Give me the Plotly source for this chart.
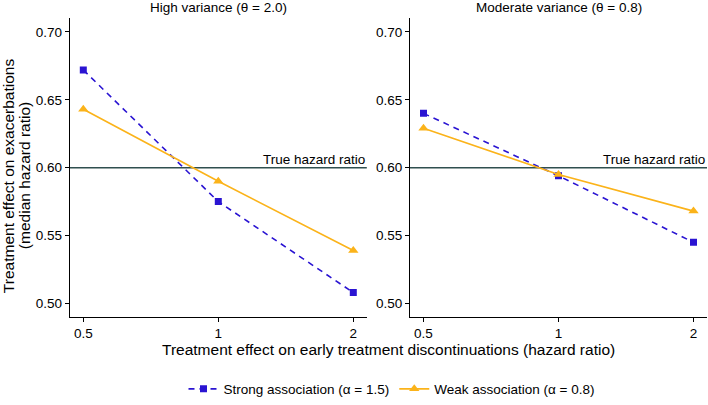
import plotly.graph_objects as go

# data
hr_discontinuation = [0.5, 1, 2]
high_strong = [0.672, 0.575, 0.508]
high_weak = [0.643, 0.590, 0.539]
moderate_strong = [0.640, 0.594, 0.545]
moderate_weak = [0.629, 0.595, 0.568]
true_hr = 0.6

panel_titles = ["High variance (θ = 2.0)", "Moderate variance (θ = 0.8)"]
strong_name = "Strong association (α = 1.5)"
weak_name = "Weak association (α = 0.8)"
y_title_lines = ["Treatment effect on exacerbations", "(median hazard ratio)"]

BLUE = "#2A14D2"
ORANGE = "#FBB31A"
FONT = "Liberation Sans, Arial, Helvetica, sans-serif"

W, H = 708, 405
x_domains = [[69.8 / W, 366.8 / W], [410 / W, 707 / W]]
y_domain = [1 - 318.6 / H, 1 - 18.4 / H]

fig = go.Figure()

panels = [(high_strong, high_weak), (moderate_strong, moderate_weak)]
for i, (strong, weak) in enumerate(panels):
    xa = "x" if i == 0 else "x2"
    ya = "y" if i == 0 else "y2"
    fig.add_trace(go.Scatter(
        x=hr_discontinuation, y=strong, mode="lines+markers", name=strong_name,
        line=dict(color=BLUE, width=1.6, dash="6px,5px"),
        marker=dict(symbol="square", size=7, color=BLUE),
        xaxis=xa, yaxis=ya, showlegend=(i == 0), legendgroup="strong"
    ))
    fig.add_trace(go.Scatter(
        x=hr_discontinuation, y=weak, mode="lines+markers", name=weak_name,
        line=dict(color=ORANGE, width=1.6),
        marker=dict(symbol="triangle-up", size=9, color=ORANGE),
        xaxis=xa, yaxis=ya, showlegend=(i == 0), legendgroup="weak"
    ))

annotations = []
shapes = []
for i in range(2):
    xref = "x" if i == 0 else "x2"
    yref = "y" if i == 0 else "y2"
    shapes.append(dict(
        type="line", xref=xref + " domain", yref=yref, x0=0, x1=1, y0=true_hr, y1=true_hr,
        line=dict(color="#2F4F4F", width=1.5), layer="below"
    ))
    annotations.append(dict(
        text="True hazard ratio", xref=xref + " domain", yref=yref, x=1, y=true_hr,
        xanchor="right", yanchor="bottom", showarrow=False, yshift=-1,
        font=dict(size=13.5, color="black")
    ))
    annotations.append(dict(
        text=panel_titles[i], xref="paper", yref="paper",
        x=sum(x_domains[i]) / 2, y=1 - 8 / H, xanchor="center", yanchor="middle",
        showarrow=False, font=dict(size=13.5, color="black")
    ))

# y title: two rotated lines, placed separately for tight line spacing
for line, xpos in zip(y_title_lines, [8, 24]):
    annotations.append(dict(
        text=line, xref="paper", yref="paper", x=xpos / W, y=1 - 177 / H,
        textangle=-90, showarrow=False, xanchor="center", yanchor="middle",
        font=dict(size=15.5, color="black")
    ))
annotations.append(dict(
    text="Treatment effect on early treatment discontinuations (hazard ratio)",
    xref="paper", yref="paper", x=(69.8 + 707) / 2 / W, y=1 - 351 / H,
    showarrow=False, xanchor="center", yanchor="middle",
    font=dict(size=15.5, color="black")
))

axis_common = dict(
    showline=True, linecolor="black", linewidth=1.2, ticks="outside", ticklen=4,
    tickcolor="black", tickwidth=1.2, showgrid=False, zeroline=False,
    tickfont=dict(size=13.5, color="black"), mirror=False
)
x_range = [-0.30103 - 0.0301, 0.30103 + 0.0301]
y_range = [0.49, 0.71]
y_ticks = [0.50, 0.55, 0.60, 0.65, 0.70]

fig.update_layout(
    width=W, height=H,
    margin=dict(l=0, r=0, t=0, b=0),
    paper_bgcolor="white", plot_bgcolor="white",
    font=dict(family=FONT, color="black"),
    xaxis=dict(domain=x_domains[0], type="log", range=x_range, anchor="y",
               tickvals=hr_discontinuation, ticktext=["0.5", "1", "2"], **axis_common),
    xaxis2=dict(domain=x_domains[1], type="log", range=x_range, anchor="y2",
                tickvals=hr_discontinuation, ticktext=["0.5", "1", "2"], **axis_common),
    yaxis=dict(domain=y_domain, range=y_range, anchor="x",
               tickvals=y_ticks, ticktext=[f"{v:.2f}" for v in y_ticks], **axis_common),
    yaxis2=dict(domain=y_domain, range=y_range, anchor="x2",
                tickvals=y_ticks, ticktext=[f"{v:.2f}" for v in y_ticks], **axis_common),
    shapes=shapes,
    annotations=annotations,
    legend=dict(orientation="h", x=392 / W, y=1 - 391 / H, xanchor="center", yanchor="middle",
                font=dict(size=13.5, color="black"), itemwidth=30, bgcolor="rgba(0,0,0,0)"),
)

# drop the default 8px body margin so the 708x405 figure fills the window
fig.write_html("out.html", config={"displayModeBar": False},
               post_script="document.body.style.margin='0';")
